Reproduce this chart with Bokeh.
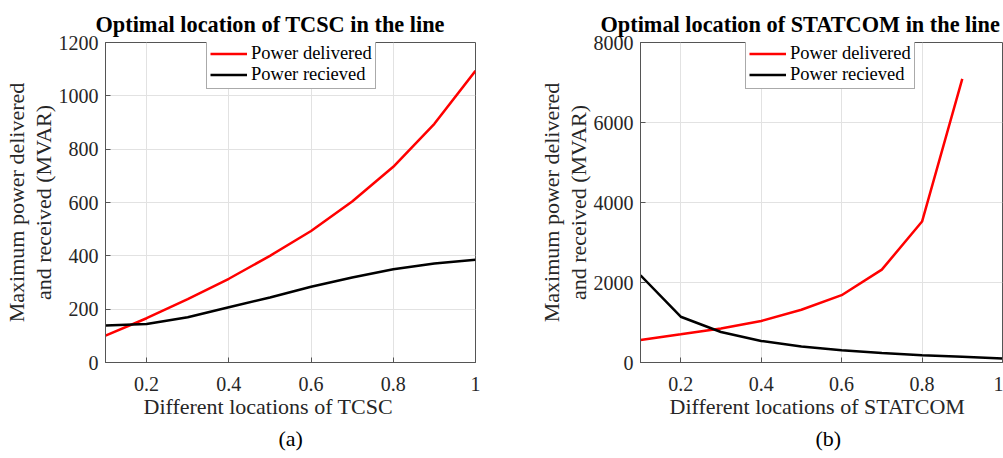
from bokeh.plotting import figure
from bokeh.layouts import row
from bokeh.models import Legend, LegendItem, FixedTicker, NumeralTickFormatter, Range1d, Title
from bokeh.embed import file_html
from bokeh.resources import INLINE

# ---- data ----
locations = [0.1, 0.2, 0.3, 0.4, 0.5, 0.6, 0.7, 0.8, 0.9, 1.0]
tcsc_delivered = [101, 166, 238, 314, 400, 493, 604, 734, 895, 1094]
tcsc_received = [139, 144, 170, 207, 244, 284, 319, 350, 371, 385]

statcom_loc_delivered = [0.1, 0.2, 0.3, 0.4, 0.5, 0.6, 0.7, 0.8, 0.9]
statcom_delivered = [564, 705, 850, 1036, 1318, 1683, 2322, 3524, 7090]
statcom_received = [2181, 1144, 763, 539, 398, 307, 240, 182, 141, 100]

x_ticks = [0.2, 0.4, 0.6, 0.8, 1.0]
tcsc_y_ticks = [0, 200, 400, 600, 800, 1000, 1200]
statcom_y_ticks = [0, 2000, 4000, 6000, 8000]

titles = ["Optimal location of TCSC in the line", "Optimal location of STATCOM in the line"]
x_labels = ["Different locations of TCSC", "Different locations of STATCOM"]
y_label_lines = ["Maximum power delivered", "and received (MVAR)"]
captions = ["(a)", "(b)"]
legend_labels = ["Power delivered", "Power recieved"]

FONT = "Times New Roman"
H = 456


def make_plot(title, xlab, caption, xd, yd, xr, yr, yticks, width, bl, br,
              title_offset, xlab_offset, cap_offset, legend_loc):
    p = figure(width=width, height=H, output_backend="svg", toolbar_location=None,
               x_range=Range1d(0.1, 1.0), y_range=Range1d(0, yticks[-1]),
               min_border_left=bl, min_border_right=br, min_border_top=42,
               min_border_bottom=H - 364)
    p.title.text = title
    p.title.align = "left"
    p.title.offset = title_offset
    p.title.standoff = 11
    p.title.text_font = "Liberation Serif"
    p.title.text_font_size = "22.3px"
    p.title.text_font_style = "bold"
    p.title.text_color = "black"

    r1 = p.line(xd, yd, line_color="#ff0000", line_width=2.5)
    r2 = p.line(xr, yr, line_color="black", line_width=2.5)

    for ax in (p.xaxis[0], p.yaxis[0]):
        ax.major_label_text_font = FONT
        ax.major_label_text_font_size = "20px"
        ax.major_label_text_color = "#262626"
        ax.axis_line_color = "#555555"
        ax.major_tick_line_color = "#555555"
        ax.major_tick_in = 5
        ax.major_tick_out = 0
        ax.minor_tick_line_color = None

    p.xaxis[0].ticker = FixedTicker(ticks=x_ticks)
    p.xaxis[0].formatter = NumeralTickFormatter(format="0.[0]")
    p.xaxis[0].major_label_standoff = 14
    p.yaxis[0].ticker = FixedTicker(ticks=yticks)
    p.yaxis[0].major_label_standoff = 7

    # two-line y label as two stacked side titles (closest to axis first)
    for txt in (y_label_lines[1], y_label_lines[0]):
        p.add_layout(Title(text=txt, align="center", text_font=FONT, text_font_size="22px",
                           text_font_style="normal", text_color="#262626", standoff=0),
                     "left")

    p.xgrid[0].ticker = FixedTicker(ticks=x_ticks)
    p.ygrid[0].ticker = FixedTicker(ticks=yticks)
    p.grid.grid_line_color = "#e2e2e2"
    p.grid.grid_line_width = 1
    p.outline_line_color = "#555555"
    p.outline_line_width = 1

    legend = Legend(items=[LegendItem(label=legend_labels[0], renderers=[r1]),
                           LegendItem(label=legend_labels[1], renderers=[r2])],
                    location=legend_loc, margin=0, padding=3, spacing=0,
                    label_text_font=FONT, label_text_font_size="18.5px",
                    label_text_color="black",
                    label_height=21, glyph_height=21, glyph_width=37, label_standoff=4,
                    border_line_color="#555555", border_line_width=1,
                    background_fill_color="white", background_fill_alpha=1)
    p.add_layout(legend, "center")

    xl = Title(text=xlab, align="left", offset=xlab_offset, text_font=FONT,
               text_font_size="22px", text_font_style="normal", text_color="#262626",
               standoff=-3)
    p.add_layout(xl, "below")

    cap = Title(text=caption, align="left", offset=cap_offset, text_font=FONT,
                text_font_size="22px", text_font_style="normal", text_color="black",
                standoff=12)
    p.add_layout(cap, "below")
    return p


p1 = make_plot(titles[0], x_labels[0], captions[0], locations, tcsc_delivered, locations,
               tcsc_received, tcsc_y_ticks, 528, 105, 53, -10, 38, 173, (101, 273))

p2 = make_plot(titles[1], x_labels[1], captions[1], statcom_loc_delivered, statcom_delivered,
               locations, statcom_received, statcom_y_ticks, 475, 112, 1, -40, 29, 175, (105, 273))

layout = row(p1, p2)
open("out.html", "w").write(file_html(layout, INLINE))
